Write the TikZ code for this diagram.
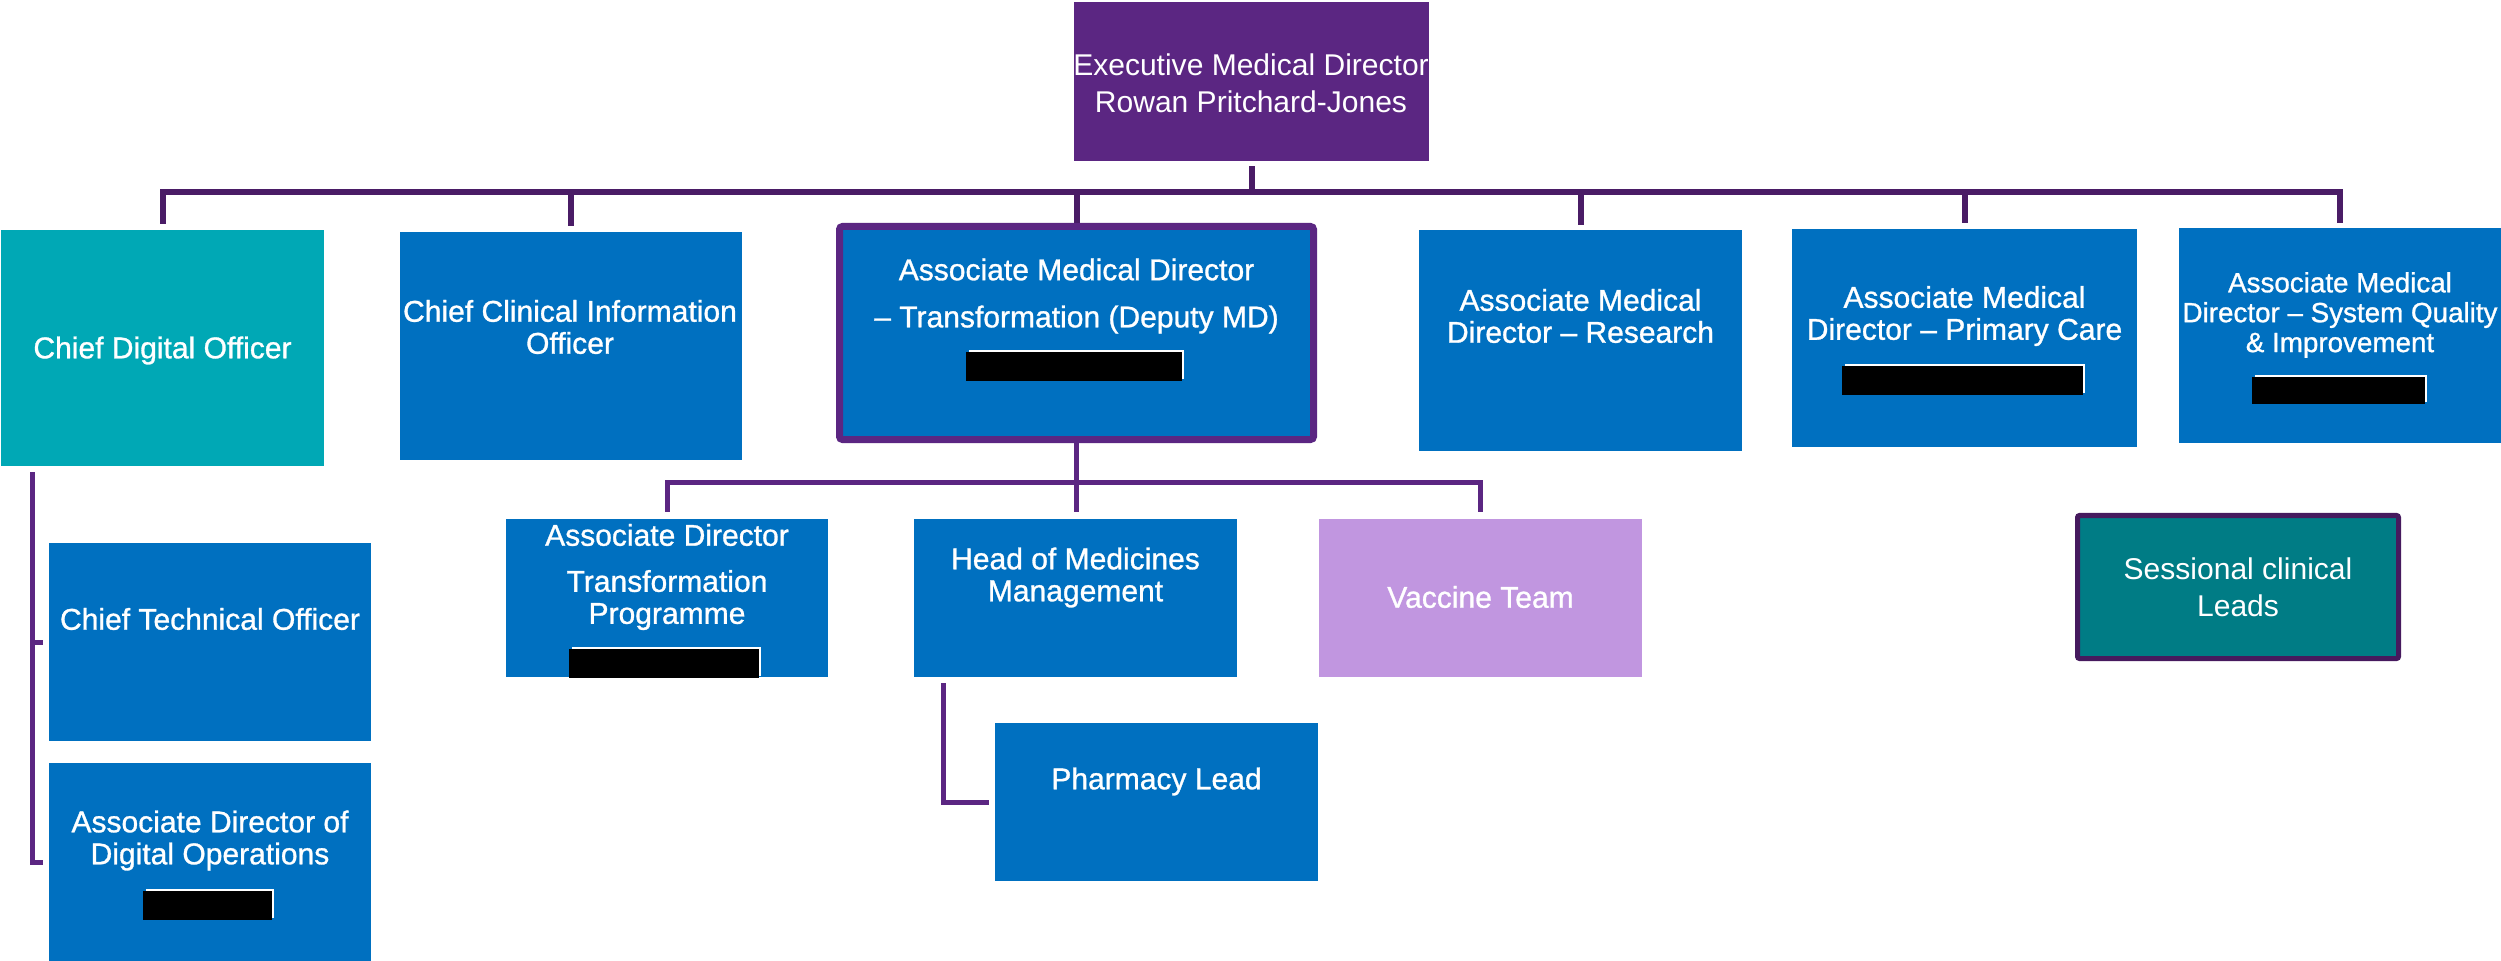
\documentclass[tikz,border=0pt]{standalone}
\usepackage{fontspec}
\setmainfont{Liberation Sans}
\newfontfamily\medfont[FakeBold=1.0]{Liberation Sans}
\definecolor{blueB}{HTML}{0070C0}
\definecolor{tealA}{HTML}{00A8B5}
\definecolor{execP}{HTML}{5B2682}
\definecolor{lineDark}{HTML}{4A1C66}
\definecolor{linePurple}{HTML}{5B2682}
\definecolor{lav}{HTML}{C196E0}
\definecolor{tealD}{HTML}{007C85}
\definecolor{sessBorder}{HTML}{461A5E}
\newcommand{\orgbox}[6]{%
  \pgfmathsetmacro{\obw}{(#5-#3)*0.01}%
  \pgfmathsetmacro{\obh}{(#6-#4)*0.01}%
  \pgfmathsetmacro{\obx}{(#3+#5)/2}%
  \pgfmathsetmacro{\oby}{(#4+#6)/2}%
  \node[#2, minimum width=\obw cm, minimum height=\obh cm] (#1) at (\obx,\oby) {};}
\newcommand{\redact}[4]{%
  \fill[white] (#1+3,#2-2) rectangle (#3+2,#4-2);
  \fill[black] (#1,#2) rectangle (#3,#4);}
\begin{document}
\begin{tikzpicture}[x=0.01cm,y=-0.01cm,
  fillbox/.style={fill=#1, draw=none, inner sep=0pt, outer sep=0pt},
  amdtbox/.style={fill=blueB, draw=linePurple, line width=0.07cm, rounded corners=0.03cm, inner sep=0pt},
  sessbox/.style={fill=tealD, draw=sessBorder, line width=0.05cm, rounded corners=0.02cm, inner sep=0pt},
  txtreg/.style={text=white, align=center, inner sep=0pt, font=\fontsize{8.54pt}{9.1pt}\selectfont},
  txt/.style={text=white, align=center, inner sep=0pt, font=\medfont\fontsize{8.54pt}{9.1pt}\selectfont},
  txtsmall/.style={text=white, align=center, inner sep=0pt, font=\medfont\fontsize{7.9pt}{8.5pt}\selectfont},
  conn/.style={draw=lineDark, line width=0.06cm},
  conn2/.style={draw=linePurple, line width=0.05cm}]
\useasboundingbox (0,0) rectangle (2501,961);

% boxes
\orgbox{exec}{fillbox=execP}{1074}{2}{1429}{161}
\orgbox{cdo}{fillbox=tealA}{1}{230}{324}{466}
\orgbox{ccio}{fillbox=blueB}{400}{232}{742}{460}
\orgbox{amdt}{amdtbox}{839.5}{226.5}{1313.5}{439.5}
\orgbox{res}{fillbox=blueB}{1419}{230}{1742}{451}
\orgbox{pc}{fillbox=blueB}{1792}{229}{2137}{447}
\orgbox{sq}{fillbox=blueB}{2179}{228}{2501}{443}
\orgbox{cto}{fillbox=blueB}{49}{543}{371}{741}
\orgbox{addo}{fillbox=blueB}{49}{763}{371}{961}
\orgbox{adtp}{fillbox=blueB}{506}{519}{828}{677}
\orgbox{hmm}{fillbox=blueB}{914}{519}{1237}{677}
\orgbox{vac}{fillbox=lav}{1319}{519}{1642}{677}
\orgbox{pharm}{fillbox=blueB}{995}{723}{1318}{881}
\orgbox{sess}{sessbox}{2077.5}{515.5}{2398.5}{658.5}

% connectors, top level
\coordinate (barA) at (0,192);
\draw[conn] ([yshift=-0.05cm]exec.south) -- (exec.south |- barA);
\draw[conn] ([yshift=0.06cm]cdo.north) |- (barA -| sq.north) -- ([yshift=0.05cm]sq.north);
\draw[conn] (ccio.north |- barA) -- ([yshift=0.06cm]ccio.north);
\draw[conn] (amdt.north |- barA) -- (amdt.north);
\draw[conn] (res.north |- barA) -- ([yshift=0.05cm]res.north);
\draw[conn] (pc.north |- barA) -- ([yshift=0.06cm]pc.north);

% CDO children
\coordinate (cdoV) at ([xshift=0.31cm,yshift=-0.06cm]cdo.south west);
\draw[conn2] (cdoV) |- ([xshift=-0.06cm]cto.west);
\draw[conn2] (cdoV) |- ([xshift=-0.06cm]addo.west);

% AMD-T children
\coordinate (barB) at (0,482);
\draw[conn2] (amdt.south) -- ([yshift=0.07cm]amdt.south |- hmm.north);
\draw[conn2] ([yshift=0.07cm]adtp.north) |- (barB -| vac.north) -- ([yshift=0.07cm]vac.north);

% pharmacy
\draw[conn2] ([xshift=0.29cm,yshift=-0.06cm]hmm.south west) |- ([xshift=-0.06cm]pharm.west);

% redactions
\redact{966}{352}{1182}{381}
\redact{1842}{366}{2083}{395}
\redact{2252}{377}{2425}{404}
\redact{569}{649}{759}{678}
\redact{143}{891}{272}{920}

% texts
\node[txtreg] (exec-t) at (1251,83.5) {Executive Medical Director\\[1.4pt]Rowan Pritchard-Jones};
\node[txt] (cdo-t) at (162.5,350.5) {Chief Digital Officer};
\node[txt] (ccio-t) at (570,327) {Chief Clinical Information\\Officer};
\node[txt] (amdt-t) at (1076.5,296) {Associate Medical Director\\[4.3pt]– Transformation (Deputy MD)};
\node[txt] (res-t) at (1580.5,316) {Associate Medical\\Director – Research};
\node[txt] (pc-t) at (1964.5,316) {Associate Medical\\Director – Primary Care};
\node[txtsmall] (sq-t) at (2340,315) {Associate Medical\\Director – System Quality\\\& Improvement};
\node[txt] (cto-t) at (210,619) {Chief Technical Officer};
\node[txt] (addo-t) at (210,840.5) {Associate Director of\\Digital Operations};
\node[txt] (adtp-t) at (667,577) {Associate Director\\[4pt]Transformation\\Programme};
\node[txt] (hmm-t) at (1075.5,577.5) {Head of Medicines\\Management};
\node[txt] (vac-t) at (1480.5,597) {Vaccine Team};
\node[txt] (pharm-t) at (1156.5,781.5) {Pharmacy Lead};
\node[txtreg] (sess-t) at (2238,587.5) {Sessional clinical\\[1.4pt]Leads};
\end{tikzpicture}
\end{document}
